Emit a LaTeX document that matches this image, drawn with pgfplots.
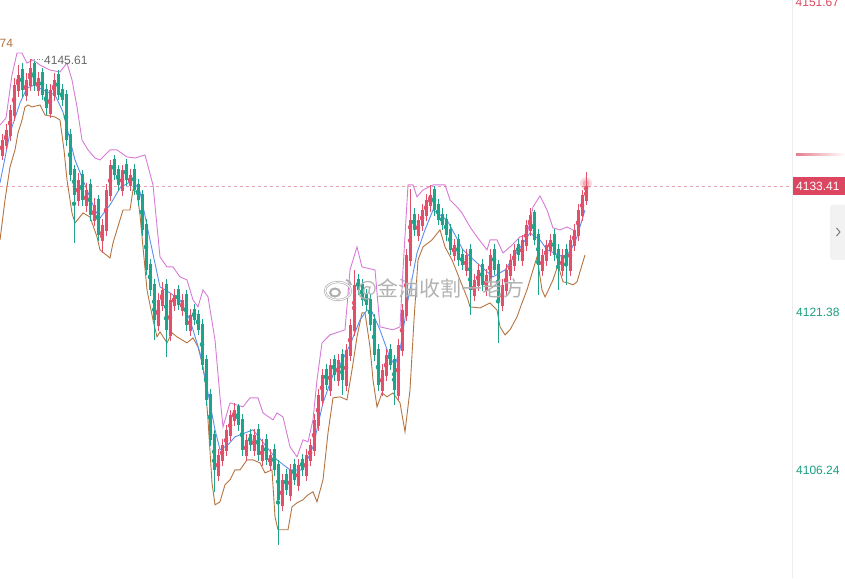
\documentclass[border=0pt]{standalone}
\usepackage{pgfplots}
\pgfplotsset{compat=1.18}
\usepackage{pgfplotstable}
\usepackage{fontspec}
\setmainfont{Liberation Sans}
\newfontfamily\cjk{Noto Sans CJK SC}
\definecolor{upc}{HTML}{E0506A}
\definecolor{dnc}{HTML}{1FA38A}
\definecolor{mablue}{HTML}{5B8FEE}
\definecolor{bandpink}{HTML}{D67BD6}
\definecolor{bandbrown}{HTML}{B5733F}
\definecolor{pricered}{HTML}{DD4660}
\definecolor{labred}{HTML}{D9485F}
\definecolor{labgreen}{HTML}{1A9E80}
\definecolor{dashpink}{HTML}{E6A2AE}

\pgfplotstableread{
x o h l c
2 4136.31 4138.40 4135.90 4137.87
6 4137.27 4139.40 4136.90 4138.83
10 4138.23 4141.20 4137.80 4140.74
14 4140.14 4143.80 4139.70 4143.14
18 4142.54 4145.05 4142.00 4144.09
22 4144.69 4145.20 4142.00 4142.66
26 4142.06 4144.30 4141.60 4143.62
30 4143.02 4145.61 4142.60 4144.76
34 4145.20 4145.45 4142.60 4143.14
38 4142.54 4144.40 4142.10 4143.80
42 4144.40 4144.80 4141.70 4142.18
46 4142.78 4143.20 4140.26 4140.93
50 4140.33 4143.20 4140.00 4142.66
54 4142.06 4144.30 4141.60 4143.62
58 4144.22 4144.60 4141.70 4142.18
62 4142.78 4143.20 4141.10 4141.70
66 4142.30 4142.70 4137.30 4137.87
70 4138.47 4138.90 4133.90 4134.51
74 4135.11 4135.50 4128.00 4132.60
78 4132.00 4134.70 4131.50 4134.04
82 4134.64 4135.00 4131.50 4132.12
86 4131.52 4133.70 4131.00 4133.08
90 4133.68 4134.10 4130.10 4130.68
94 4130.08 4132.30 4129.60 4131.64
98 4132.24 4132.60 4128.20 4128.77
102 4128.17 4130.30 4127.04 4129.72
106 4129.12 4133.60 4128.70 4133.08
110 4132.48 4135.95 4132.00 4135.47
114 4136.07 4136.40 4134.00 4134.51
118 4135.11 4135.50 4133.00 4133.56
122 4132.96 4135.50 4132.50 4134.99
126 4135.59 4136.00 4133.50 4134.04
130 4133.44 4135.10 4133.00 4134.51
134 4135.11 4135.60 4132.60 4133.08
138 4133.68 4134.10 4131.50 4132.12
142 4132.72 4133.10 4128.70 4129.25
146 4129.85 4130.30 4124.90 4125.41
150 4126.01 4126.50 4122.90 4123.50
154 4124.10 4124.50 4118.71 4120.62
158 4120.02 4123.20 4119.60 4122.54
162 4121.94 4124.30 4121.50 4123.50
166 4124.10 4124.50 4117.08 4119.67
170 4119.07 4123.20 4118.60 4122.54
174 4121.94 4123.60 4121.50 4123.02
178 4123.62 4124.00 4121.60 4122.06
182 4121.46 4123.10 4121.00 4122.54
186 4123.14 4123.50 4119.60 4120.14
190 4119.54 4121.70 4119.10 4121.10
194 4121.70 4122.10 4120.10 4120.62
198 4121.22 4121.60 4119.20 4119.67
202 4120.27 4120.70 4115.80 4116.31
206 4116.91 4117.30 4112.40 4112.96
210 4113.56 4114.00 4108.50 4109.13
214 4109.73 4110.10 4104.15 4106.25
218 4105.65 4108.30 4105.20 4107.69
222 4107.09 4109.20 4106.60 4108.65
226 4108.05 4110.60 4107.60 4110.09
230 4109.49 4112.00 4109.00 4111.52
234 4110.92 4112.67 4110.50 4112.00
238 4112.40 4112.60 4110.00 4110.56
242 4111.16 4111.60 4107.60 4108.17
246 4107.57 4109.70 4107.10 4109.13
250 4109.73 4110.20 4108.10 4108.65
254 4108.05 4110.20 4107.60 4109.61
258 4110.21 4110.60 4107.10 4107.69
262 4107.09 4109.20 4106.60 4108.65
266 4109.25 4109.70 4106.70 4107.21
270 4106.61 4108.30 4106.10 4107.69
274 4108.29 4108.70 4105.70 4106.25
278 4106.85 4107.20 4099.07 4103.38
282 4102.78 4105.90 4102.30 4105.30
286 4105.90 4106.30 4103.80 4104.34
290 4103.74 4106.80 4103.30 4106.25
294 4106.85 4107.30 4104.80 4105.30
298 4104.70 4107.30 4104.20 4106.73
302 4107.33 4107.80 4105.70 4106.25
306 4105.65 4108.30 4105.20 4107.69
310 4107.09 4109.20 4106.60 4108.65
314 4108.05 4111.60 4107.60 4111.04
318 4110.44 4114.00 4110.00 4113.44
322 4112.84 4115.90 4112.40 4115.35
326 4115.95 4116.40 4113.90 4114.40
330 4113.80 4116.90 4113.30 4116.31
334 4116.91 4117.30 4114.80 4115.35
338 4114.75 4117.40 4114.30 4116.79
342 4117.39 4117.80 4113.44 4114.88
346 4114.28 4118.30 4113.80 4117.75
350 4117.15 4120.70 4116.70 4120.14
354 4119.54 4125.41 4119.10 4123.98
358 4124.58 4125.00 4123.00 4123.50
362 4124.10 4124.50 4122.00 4122.54
366 4123.14 4123.60 4121.50 4122.06
370 4122.66 4123.10 4119.60 4120.14
374 4120.74 4121.20 4116.70 4117.27
378 4117.87 4118.30 4113.80 4114.40
382 4113.80 4116.40 4113.30 4115.83
386 4115.23 4117.80 4114.80 4117.27
390 4117.87 4118.30 4115.80 4116.31
394 4116.91 4117.30 4112.48 4113.92
398 4113.32 4118.80 4112.90 4118.23
402 4117.63 4122.10 4117.20 4121.58
406 4120.98 4127.40 4120.50 4126.85
410 4126.25 4133.20 4125.80 4130.20
414 4130.80 4131.30 4128.70 4129.25
418 4128.65 4130.80 4128.20 4130.20
422 4129.60 4131.70 4129.10 4131.16
426 4130.56 4132.70 4130.10 4132.12
430 4131.52 4133.56 4131.00 4132.60
434 4133.20 4133.50 4130.60 4131.16
438 4131.76 4132.20 4129.70 4130.20
442 4130.80 4131.30 4129.20 4129.72
446 4130.32 4130.80 4128.20 4128.77
450 4129.37 4129.80 4126.80 4127.33
454 4126.73 4128.40 4126.30 4127.81
458 4128.41 4128.90 4125.80 4126.37
462 4126.97 4127.40 4125.40 4125.89
466 4125.29 4127.40 4124.80 4126.85
470 4127.45 4127.90 4121.10 4123.50
474 4122.90 4125.00 4122.40 4124.46
478 4123.86 4126.00 4123.40 4125.41
482 4126.01 4126.50 4123.40 4123.98
486 4123.38 4125.50 4122.90 4124.93
490 4124.33 4127.40 4123.90 4126.85
494 4127.45 4127.90 4124.90 4125.41
498 4126.01 4126.40 4118.41 4122.54
502 4121.94 4124.50 4121.50 4123.98
506 4123.38 4126.00 4122.90 4125.41
510 4124.81 4126.90 4124.40 4126.37
514 4125.77 4127.90 4125.30 4127.33
518 4127.93 4128.40 4126.30 4126.85
522 4126.25 4128.80 4125.80 4128.29
526 4127.69 4130.20 4127.20 4129.72
530 4129.12 4131.35 4128.70 4130.68
534 4131.00 4131.20 4127.80 4128.29
538 4128.89 4129.30 4123.02 4125.89
542 4125.29 4127.40 4124.80 4126.85
546 4126.25 4128.30 4125.80 4127.81
550 4127.21 4128.90 4126.70 4128.29
554 4128.89 4129.30 4126.30 4126.85
558 4127.45 4127.90 4123.50 4125.89
562 4125.29 4127.40 4124.80 4126.85
566 4127.45 4127.90 4123.98 4125.89
570 4125.29 4128.80 4124.80 4128.29
574 4127.69 4129.80 4127.20 4129.25
578 4128.65 4131.70 4128.20 4131.16
582 4130.56 4133.10 4130.10 4132.60
586 4132.00 4134.80 4131.60 4133.41
}\candles

\pgfplotstableread{
x y
0 4133.75
10 4138.54
20 4141.41
27 4142.85
35 4143.14
43 4142.66
55 4142.18
63 4140.55
70 4137.87
75 4135.95
85 4133.56
95 4131.16
100 4130.39
110 4131.64
120 4133.27
133 4134.04
140 4132.89
150 4128.29
160 4123.79
170 4123.21
180 4122.54
190 4120.62
200 4117.46
208 4113.63
215 4110.09
220 4108.17
228 4108.65
235 4109.42
253 4110.09
265 4108.65
277 4107.21
290 4106.25
303 4106.25
313 4108.46
323 4112.67
333 4115.35
340 4116.31
350 4118.23
360 4120.62
367 4121.58
372 4121.39
380 4119.67
390 4116.98
395 4116.31
400 4117.75
408 4122.54
417 4127.04
425 4129.25
433 4131.16
440 4130.68
447 4130.20
455 4128.77
463 4127.33
477 4126.08
493 4124.74
505 4125.41
515 4126.85
530 4128.96
540 4128.29
547 4127.33
563 4126.66
570 4127.14
577 4128.58
585 4131.16
}\mablue

\pgfplotstableread{
x y
0 4139.30
6 4139.97
12 4144.09
17 4146.20
22 4146.20
27 4145.24
33 4145.53
40 4145.05
50 4144.57
60 4144.38
67 4145.24
72 4143.62
77 4141.03
82 4137.87
88 4136.91
95 4136.14
100 4135.95
110 4136.91
117 4136.91
127 4136.24
135 4136.14
145 4136.43
153 4133.56
160 4126.66
167 4125.70
173 4125.70
180 4124.74
187 4124.46
193 4122.54
198 4121.87
203 4123.50
208 4122.83
215 4118.71
220 4113.25
223 4110.37
230 4112.67
243 4112.29
250 4113.15
258 4113.15
263 4111.71
273 4111.04
277 4111.71
283 4111.33
290 4108.46
297 4107.50
303 4109.13
308 4108.94
313 4111.04
317 4114.88
322 4118.42
330 4119.19
345 4119.67
350 4125.41
357 4127.62
362 4125.70
375 4125.41
380 4119.96
393 4119.67
400 4119.96
403 4125.41
408 4133.56
413 4133.56
417 4132.41
423 4133.08
433 4133.56
445 4133.56
450 4132.12
457 4131.45
462 4130.87
470 4129.53
477 4128.58
487 4127.33
490 4128.29
497 4128.29
503 4127.04
510 4127.62
520 4128.58
527 4128.77
533 4131.45
540 4132.50
547 4131.16
553 4129.44
560 4129.25
567 4129.53
573 4129.25
}\bandup

\pgfplotstableread{
x y
0 4128.29
5 4132.12
10 4135.28
15 4136.91
18 4138.54
22 4139.78
25 4141.03
28 4141.22
32 4141.03
40 4141.22
45 4140.26
55 4140.07
60 4139.78
64 4136.91
67 4134.04
72 4130.87
75 4129.91
83 4130.87
90 4130.49
97 4128.58
100 4127.33
110 4126.56
113 4128.00
123 4131.16
130 4131.16
133 4133.08
137 4132.89
140 4130.68
147 4123.50
153 4120.62
157 4119.00
160 4119.48
167 4118.42
172 4119.38
177 4119.00
182 4118.71
187 4118.42
193 4118.90
198 4118.04
203 4116.12
205 4114.88
208 4111.04
212 4105.01
215 4102.90
220 4103.19
225 4104.82
230 4105.30
235 4106.25
240 4106.25
247 4107.21
253 4107.21
260 4106.92
265 4105.96
272 4106.25
275 4101.75
278 4100.51
288 4100.51
292 4102.71
297 4103.09
303 4103.38
308 4103.86
313 4104.15
317 4103.19
323 4105.30
328 4109.80
333 4113.15
340 4113.25
347 4112.96
352 4115.83
357 4119.00
362 4121.30
365 4121.30
370 4118.04
373 4114.88
377 4112.29
382 4113.63
387 4113.25
393 4113.63
400 4112.67
405 4109.90
410 4113.92
414 4120.62
418 4126.37
423 4127.62
432 4128.29
440 4129.25
445 4127.62
452 4126.37
460 4124.46
468 4122.54
470 4121.87
480 4121.77
490 4122.25
497 4121.58
500 4119.96
505 4119.19
510 4119.67
517 4120.91
522 4122.25
527 4123.50
533 4125.41
537 4126.66
542 4123.50
545 4122.83
547 4123.21
553 4124.46
558 4125.89
563 4124.27
568 4124.17
573 4123.98
577 4124.27
582 4125.89
585 4126.85
}\banddn

\begin{document}
\begin{tikzpicture}[x=1pt,y=1pt]
\begin{axis}[
  at={(0pt,0pt)}, anchor=south west,
  width=792pt, height=578pt, scale only axis,
  xmin=0, xmax=792, ymin=4095.89, ymax=4151.28,
  axis lines=none, ticks=none, clip=false,
]
% current price dashed line
\addplot[dashpink, line width=0.7pt, dash pattern=on 3pt off 3pt, forget plot] coordinates {(0,4133.41) (792,4133.41)};
% bands and MA
\addplot[bandpink, line width=0.9pt, mark=none] table[x=x,y=y] {\bandup};
\addplot[bandbrown, line width=0.9pt, mark=none] table[x=x,y=y] {\banddn};
\addplot[mablue, line width=0.9pt, mark=none] table[x=x,y=y] {\mablue};
% wicks
\addplot[upc, only marks, mark=none, forget plot, restrict y to domain=4000:4200,
  error bars/.cd, y dir=both, y explicit, error mark=none,
  error bar style={line width=0.9pt, upc}]
  table[x=x, y expr={\thisrow{c}>=\thisrow{o} ? 0.5*(\thisrow{h}+\thisrow{l}) : 0},
        y error expr={0.5*(\thisrow{h}-\thisrow{l})}] {\candles};
\addplot[dnc, only marks, mark=none, forget plot, restrict y to domain=4000:4200,
  error bars/.cd, y dir=both, y explicit, error mark=none,
  error bar style={line width=0.9pt, dnc}]
  table[x=x, y expr={\thisrow{c}<\thisrow{o} ? 0.5*(\thisrow{h}+\thisrow{l}) : 0},
        y error expr={0.5*(\thisrow{h}-\thisrow{l})}] {\candles};
% bodies
\addplot[upc, only marks, mark=none, forget plot, restrict y to domain=4000:4200,
  error bars/.cd, y dir=both, y explicit, error mark=none,
  error bar style={line width=3pt, upc}]
  table[x=x, y expr={\thisrow{c}>=\thisrow{o} ? 0.5*(\thisrow{o}+\thisrow{c}) : 0},
        y error expr={max(0.5*abs(\thisrow{c}-\thisrow{o}),0.05)}] {\candles};
\addplot[dnc, only marks, mark=none, forget plot, restrict y to domain=4000:4200,
  error bars/.cd, y dir=both, y explicit, error mark=none,
  error bar style={line width=3pt, dnc}]
  table[x=x, y expr={\thisrow{c}<\thisrow{o} ? 0.5*(\thisrow{o}+\thisrow{c}) : 0},
        y error expr={max(0.5*abs(\thisrow{c}-\thisrow{o}),0.05)}] {\candles};
% glow on last price
\addplot[only marks, mark=*, mark size=6pt, color=upc, fill opacity=0.22, draw opacity=0] coordinates {(586,4133.7)};
\addplot[only marks, mark=*, mark size=3.5pt, color=upc, fill opacity=0.3, draw opacity=0] coordinates {(586,4133.7)};
\end{axis}
% right border
\draw[black!7, line width=0.8pt] (792,0) -- (792,578);
% right labels
\node[anchor=west, inner sep=0pt, text=labred, font=\fontsize{12}{14}\selectfont] at (795.5,575.5) {4151.67};
\shade[left color=labred!70, right color=white] (796,422.3) rectangle (845,424.3);
\fill[pricered] (793,383) rectangle (845,401);
\node[anchor=west, inner sep=0pt, text=white, font=\fontsize{12}{14}\selectfont] at (796,392) {4133.41};
\node[anchor=west, inner sep=0pt, text=labgreen, font=\fontsize{12}{14}\selectfont] at (796,266) {4121.38};
\node[anchor=west, inner sep=0pt, text=labgreen, font=\fontsize{12}{14}\selectfont] at (796,108) {4106.24};
% collapse button
\fill[black!5, rounded corners=3pt] (830,318) rectangle (850,373);
\draw[black!55, line width=0.9pt] (836.5,350) -- (840,346) -- (836.5,342);
% high label
\draw[black!45, line width=0.8pt, dotted] (31,518.5) -- (43,518.5);
\node[anchor=west, inner sep=0pt, text=black!60, font=\fontsize{12}{14}\selectfont] at (44,518) {4145.61};
\node[anchor=west, inner sep=0pt, text=bandbrown, font=\fontsize{12}{14}\selectfont] at (-0.5,535) {74};
% watermark
\draw[black!32, line width=2.2pt] (338,287) ellipse (13 and 9);
\draw[white, line width=0.9pt] (338,287) ellipse (13 and 9);
\draw[black!32, line width=2pt] (335,285.5) ellipse (5 and 4);
\draw[black!32, line width=1.8pt] (346,298) arc (90:0:5);
\node[anchor=west, inner sep=0pt, text=black!30, font=\cjk\fontsize{21}{23}\selectfont] at (357,289) {@金油收割一老方};
\pgfresetboundingbox
\path[use as bounding box] (0,0) rectangle (845,578);
\end{tikzpicture}
\end{document}
